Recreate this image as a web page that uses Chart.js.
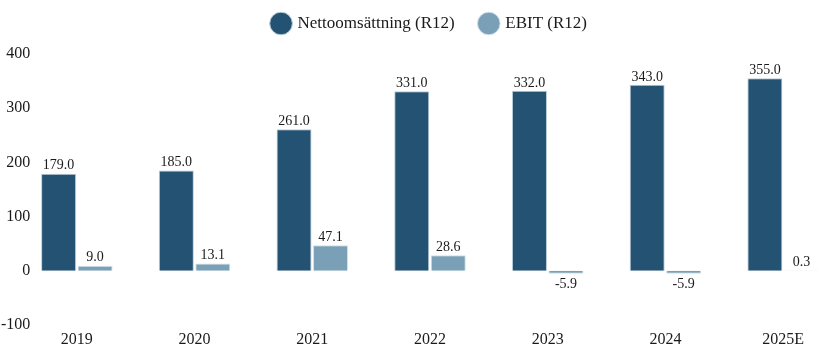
<!DOCTYPE html>
<html>
<head>
<meta charset="utf-8">
<script src="https://cdn.jsdelivr.net/npm/chart.js@4/dist/chart.umd.min.js"></script>
<style>
  html, body { margin: 0; padding: 0; background: #fff; overflow: hidden; }
  #wrap { width: 846px; height: 358px; }
</style>
</head>
<body>
<div id="wrap"><canvas id="chart" width="846" height="358"></canvas></div>
<script>
var years = ['2019', '2020', '2021', '2022', '2023', '2024', '2025E'];
var netSales = [179.0, 185.0, 261.0, 331.0, 332.0, 343.0, 355.0];
var ebit = [9.0, 13.1, 47.1, 28.6, -5.9, -5.9, 0.3];
var yTicks = [-100, 0, 100, 200, 300, 400];

var serif = '"Liberation Serif", "Times New Roman", serif';

// etiketter ovanför / under staplarna
var valueLabels = {
  id: 'valueLabels',
  afterDatasetsDraw: function(chart) {
    var ctx = chart.ctx;
    ctx.save();
    ctx.font = '14px ' + serif;
    ctx.fillStyle = '#1a1a1a';
    ctx.textAlign = 'center';
    chart.data.datasets.forEach(function(ds, i) {
      chart.getDatasetMeta(i).data.forEach(function(bar, j) {
        var v = ds.data[j];
        if (v >= 0) {
          ctx.textBaseline = 'bottom';
          ctx.fillText(v.toFixed(1), bar.x, bar.y - 1);
        } else {
          ctx.textBaseline = 'top';
          ctx.fillText(v.toFixed(1), bar.x, bar.y + 3);
        }
      });
    });
    ctx.restore();
  }
};

// lite extra luft under legenden
var legendGap = {
  id: 'legendGap',
  beforeInit: function(chart) {
    var fit = chart.legend.fit;
    chart.legend.fit = function() {
      fit.bind(chart.legend)();
      this.height += 12;
    };
  }
};

var ctx = document.getElementById('chart');
var chart = new Chart(ctx, {
  type: 'bar',
  data: {
    labels: years,
    datasets: [{
      label: 'Nettoomsättning (R12)',
      data: netSales,
      backgroundColor: '#235273',
      borderColor: '#b9ccd8',
      borderWidth: 1,
      categoryPercentage: 0.62,
      barPercentage: 0.96
    }, {
      label: 'EBIT (R12)',
      data: ebit,
      backgroundColor: '#79a0b6',
      borderColor: '#d3e0e8',
      borderWidth: 1,
      categoryPercentage: 0.62,
      barPercentage: 0.96
    }]
  },
  options: {
    responsive: false,
    animation: false,
    layout: { padding: { top: -11, right: 4, left: 0, bottom: 4 } },
    plugins: {
      legend: {
        position: 'top',
        fullSize: false,
        labels: {
          usePointStyle: true,
          pointStyle: 'circle',
          boxWidth: 16,
          boxHeight: 16,
          padding: 26,
          color: '#1a1a1a',
          font: { family: serif, size: 17 }
        }
      },
      tooltip: { enabled: false }
    },
    scales: {
      x: {
        grid: { display: false, drawTicks: false },
        border: { display: false },
        ticks: { color: '#1a1a1a', font: { family: serif, size: 16 }, padding: 5 }
      },
      y: {
        min: -100,
        max: 400,
        afterBuildTicks: function(scale) {
          scale.ticks = yTicks.map(function(v) { return { value: v }; });
        },
        afterFit: function(scale) { scale.width = 18; },
        grid: { display: false, drawTicks: false },
        border: { display: false },
        ticks: { color: '#1a1a1a', font: { family: serif, size: 16 }, mirror: true, crossAlign: 'far', padding: -17 }
      }
    }
  },
  plugins: [valueLabels, legendGap]
});
</script>
</body>
</html>
